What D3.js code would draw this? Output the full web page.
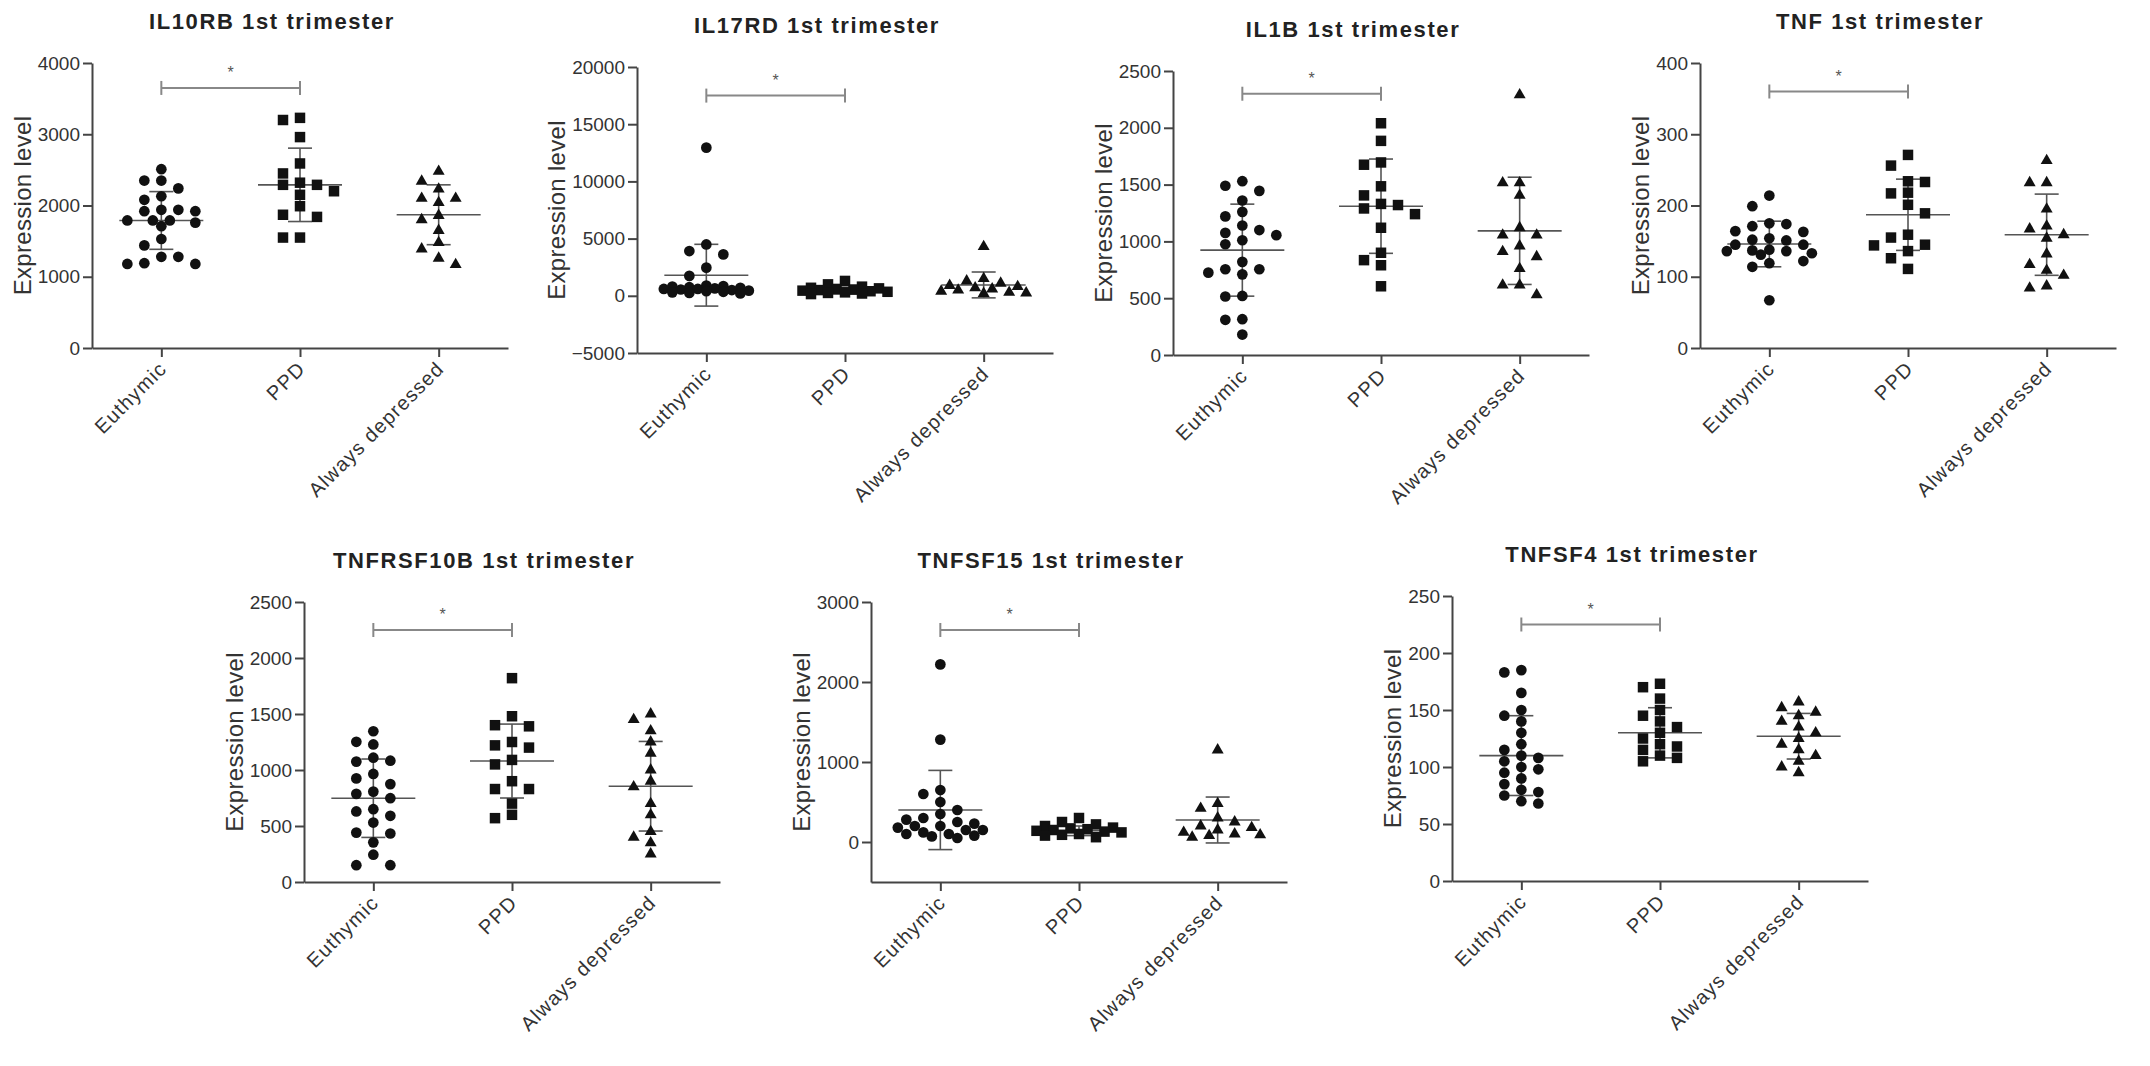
<!DOCTYPE html>
<html lang="en">
<head>
<meta charset="UTF-8">
<title>1st trimester expression levels</title>
<style>
    body { margin: 0; background: #fff; }
    svg { display: block; font-family: "Liberation Sans", Arial, sans-serif; }
    .axis path, .axis line { stroke: #444; stroke-width: 2; fill: none; }
    .axis text { font-size: 19px; fill: #333; font-family: "Liberation Sans", Arial, sans-serif; }
    .x-axis text { font-size: 20px; letter-spacing: 1.2px; }
    .title { font-size: 22px; font-weight: bold; fill: #222; letter-spacing: 1.6px; }
    .ylabel { font-size: 24px; fill: #333; letter-spacing: 0.3px; }
    .stat line { stroke: #555; stroke-width: 1.6; }
    .sig line { stroke: #888; stroke-width: 2; }
    .sig text { font-size: 16px; fill: #555; }
</style>
</head>
<body>
<div id="chart"></div>
<script src="https://d3js.org/d3.v7.min.js"></script>
<script>
    // groups shown on every x axis
    const groups = ['Euthymic', 'PPD', 'Always depressed'];
    const genes = ['IL10RB', 'IL17RD', 'IL1B', 'TNF', 'TNFRSF10B', 'TNFSF15', 'TNFSF4'];

    // y axis domains and tick values per gene
    const yDomains = [[0, 4000], [-5000, 20000], [0, 2500], [0, 400], [0, 2500], [-500, 3000], [0, 250]];
    const yTicks = [
        [0, 1000, 2000, 3000, 4000],
        [-5000, 0, 5000, 10000, 15000, 20000],
        [0, 500, 1000, 1500, 2000, 2500],
        [0, 100, 200, 300, 400],
        [0, 500, 1000, 1500, 2000, 2500],
        [0, 1000, 2000, 3000],
        [0, 50, 100, 150, 200, 250]
    ];

    // individual values: [Euthymic, PPD, Always depressed]
    const IL10RB = [
        [2510, 2350, 2350, 2240, 2130, 2080, 1940, 1920, 1940, 1920, 1790, 1790, 1790, 1760, 1710, 1530, 1440, 1280, 1280, 1190, 1180, 1180],
        [3230, 3200, 2960, 2590, 2450, 2320, 2290, 2290, 2200, 2150, 1990, 1870, 1840, 1550, 1550],
        [2480, 2340, 2230, 2100, 2100, 2040, 1860, 1800, 1650, 1480, 1390, 1260, 1170]
    ];
    const IL17RD = [
        [12950, 4490, 3910, 3620, 2460, 1740, 900, 850, 800, 750, 700, 650, 600, 600, 550, 500, 450, 400, 350, 300, 250, 200],
        [1300, 1000, 800, 700, 650, 600, 550, 500, 450, 400, 350, 300, 250, 200, 150],
        [4300, 1500, 1300, 1100, 900, 800, 700, 600, 500, 400, 300, 250, 200]
    ];
    const IL1B = [
        [1530, 1490, 1445, 1360, 1260, 1220, 1140, 1100, 1075, 1055, 1010, 975, 820, 755, 755, 725, 710, 520, 515, 315, 310, 180],
        [2040, 1885, 1695, 1675, 1485, 1405, 1330, 1320, 1290, 1240, 1120, 900, 835, 790, 605],
        [2290, 1515, 1515, 1405, 1120, 1055, 1055, 960, 910, 865, 760, 615, 615, 530]
    ];
    const TNF = [
        [214, 199, 175, 174, 171, 164, 163, 154, 152, 151, 145, 145, 138, 137, 136, 136, 133, 131, 122, 119, 114, 67],
        [271, 256, 234, 233, 218, 217, 201, 189, 159, 155, 145, 144, 136, 126, 111],
        [263, 232, 232, 195, 171, 167, 159, 154, 132, 117, 109, 102, 87, 84]
    ];
    const TNFRSF10B = [
        [1346, 1252, 1228, 1110, 1083, 1075, 965, 925, 874, 807, 787, 748, 650, 630, 591, 531, 441, 433, 354, 244, 150, 150],
        [1820, 1480, 1400, 1390, 1250, 1220, 1200, 1090, 1050, 900, 830, 830, 700, 600, 570],
        [1500, 1450, 1350, 1250, 1150, 1000, 900, 850, 700, 600, 450, 400, 350, 250]
    ];
    const TNFSF15 = [
        [2220, 1280, 650, 600, 500, 400, 350, 300, 280, 250, 230, 200, 200, 180, 150, 150, 120, 100, 100, 80, 70, 50],
        [300, 250, 220, 200, 180, 170, 160, 150, 140, 130, 120, 100, 90, 80, 60],
        [1150, 480, 420, 300, 250, 200, 180, 150, 120, 100, 90, 80, 60]
    ];
    const TNFSF4 = [
        [185, 183, 165, 150, 145, 140, 130, 120, 115, 110, 108, 105, 100, 98, 95, 90, 85, 80, 78, 75, 70, 68],
        [173, 170, 160, 150, 145, 140, 135, 130, 125, 120, 118, 115, 110, 108, 105],
        [157, 152, 148, 145, 140, 135, 130, 125, 120, 115, 110, 105, 100, 95]
    ];
    const valuesByGene = [IL10RB, IL17RD, IL1B, TNF, TNFRSF10B, TNFSF15, TNFSF4];

    // mean and SD lines as drawn in the figure
    const means = [[1790, 2290, 1870], [1800, 450, 950], [923, 1310, 1093], [146, 187, 159], [748, 1080, 855], [400, 140, 275], [110, 130, 127]];
    const sds = [[405, 515, 420], [2700, 300, 1130], [405, 415, 472], [32, 50, 57], [350, 330, 400], [495, 60, 287], [35, 22, 20]];

    // height of the Euthymic vs PPD significance bracket (data units)
    const sigLevel = [3650, 17500, 2300, 360, 2250, 2650, 225];

    // plot area of each panel in the page
    const layout = [
        { x0: 92, x1: 508, y0: 63, y1: 348 },
        { x0: 637, x1: 1053, y0: 67, y1: 353 },
        { x0: 1173, x1: 1589, y0: 71, y1: 355 },
        { x0: 1700, x1: 2116, y0: 63, y1: 348 },
        { x0: 304, x1: 720, y0: 602, y1: 882 },
        { x0: 871, x1: 1287, y0: 602, y1: 882 },
        { x0: 1452, x1: 1868, y0: 596, y1: 881 }
    ];

    const symbols = [d3.symbolCircle, d3.symbolSquare, d3.symbolTriangle];
    const symbolSizes = [90, 110, 62];

    const svg = d3.select('#chart').append('svg')
        .attr('width', 2150)
        .attr('height', 1066);

    // beeswarm in the spirit of GraphPad's scatter columns
    function swarm(vals, y) {
        const step = 17;
        const main = [0, -step, step, -2 * step, 2 * step];
        const extra = [-step / 2, step / 2, -1.5 * step, 1.5 * step, -2.5 * step, 2.5 * step];
        const pts = vals.map(v => ({ v, py: y(v) })).sort((a, b) => a.py - b.py);
        const placed = [];
        const minDist = c => {
            let m = Infinity;
            placed.forEach(q => { m = Math.min(m, Math.hypot(c - q.dx, pts.cur.py - q.py)); });
            return m;
        };
        pts.forEach(p => {
            pts.cur = p;
            // balance sides: prefer the side with fewer close neighbours
            const near = placed.filter(q => Math.abs(q.py - p.py) < 20);
            const left = near.filter(q => q.dx < 0).length, right = near.filter(q => q.dx > 0).length;
            const order = main.slice().sort((a, b) => Math.abs(a) - Math.abs(b) ||
                (left <= right ? a - b : b - a));
            let best = null;
            for (const c of order) {
                if (minDist(c) >= 11) { best = c; break; }
            }
            if (best === null) {
                let bestD = -1;
                order.concat(extra).forEach(c => {
                    const d = minDist(c);
                    if (d > bestD) { bestD = d; best = c; }
                });
            }
            p.dx = best;
            placed.push(p);
        });
        return pts;
    }

    genes.forEach((gene, i) => {
        const L = layout[i];
        const y = d3.scaleLinear().domain(yDomains[i]).range([L.y1, L.y0]);
        const x = d3.scalePoint().domain(groups).range([L.x0, L.x1]).padding(0.5);
        const g = svg.append('g');

        const yAxisG = g.append('g')
            .attr('class', 'axis y-axis')
            .attr('transform', `translate(${L.x0},0)`)
            .call(d3.axisLeft(y).tickValues(yTicks[i]).tickSize(9).tickPadding(3).tickSizeOuter(0).tickFormat(d3.format('d')));

        const xAxisG = g.append('g')
            .attr('class', 'axis x-axis')
            .attr('transform', `translate(0,${L.y1})`)
            .call(d3.axisBottom(x).tickSize(9).tickSizeOuter(0));
        xAxisG.selectAll('text')
            .attr('x', 0).attr('y', 0).attr('dy', 0)
            .attr('text-anchor', 'end')
            .attr('transform', 'translate(6,22) rotate(-45)');

        const bb = yAxisG.node().getBBox();
        g.append('text')
            .attr('class', 'ylabel')
            .attr('text-anchor', 'middle')
            .attr('transform', `translate(${L.x0 + bb.x - 7},${(L.y0 + L.y1) / 2}) rotate(-90)`)
            .text('Expression level');

        g.append('text')
            .attr('class', 'title')
            .attr('text-anchor', 'middle')
            .attr('x', (L.x0 + L.x1) / 2 - 28)
            .attr('y', L.y0 - 34)
            .text(gene + ' 1st trimester');

        // significance bracket
        const sig = g.append('g').attr('class', 'sig');
        const yb = y(sigLevel[i]);
        const xa = x(groups[0]), xb = x(groups[1]);
        sig.append('line').attr('x1', xa).attr('x2', xb).attr('y1', yb).attr('y2', yb);
        [xa, xb].forEach(cx => sig.append('line').attr('x1', cx).attr('x2', cx).attr('y1', yb - 7).attr('y2', yb + 7));
        sig.append('text').attr('x', (xa + xb) / 2).attr('y', yb - 10).attr('text-anchor', 'middle').text('*');

        // mean +/- SD
        groups.forEach((grp, j) => {
            const cx = x(grp);
            const m = means[i][j], sd = sds[i][j];
            const st = g.append('g').attr('class', 'stat');
            st.append('line').attr('x1', cx - 42).attr('x2', cx + 42).attr('y1', y(m)).attr('y2', y(m));
            st.append('line').attr('x1', cx).attr('x2', cx).attr('y1', y(m + sd)).attr('y2', y(m - sd));
            [m + sd, m - sd].forEach(v => st.append('line').attr('x1', cx - 12).attr('x2', cx + 12).attr('y1', y(v)).attr('y2', y(v)));
        });

        // points
        groups.forEach((grp, j) => {
            const cx = x(grp);
            const pts = swarm(valuesByGene[i][j], y);
            g.append('g').selectAll('path')
                .data(pts)
                .enter().append('path')
                .attr('d', d3.symbol().type(symbols[j]).size(symbolSizes[j]))
                .attr('transform', d => `translate(${cx + d.dx},${d.py})`)
                .attr('fill', '#111');
        });
    });
</script>
</body>
</html>
